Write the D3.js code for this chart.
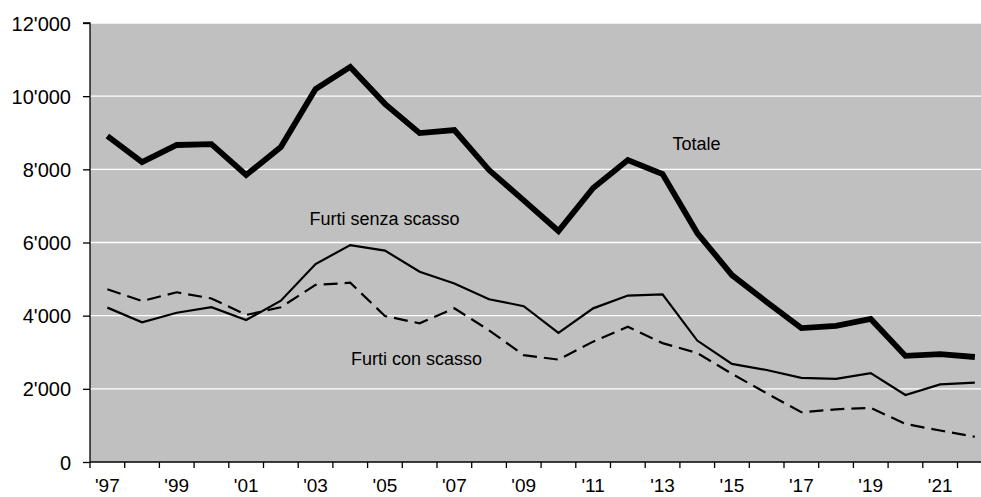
<!DOCTYPE html>
<html><head><meta charset="utf-8">
<script src="https://cdn.jsdelivr.net/npm/d3@7"></script>
<style>body{margin:0;background:#fff}svg{display:block}text{font-family:"Liberation Sans",Arial,sans-serif;fill:#000}</style>
</head><body><svg id="c" width="981" height="497"></svg>
<script>
const years = ["1997","1998","1999","2000","2001","2002","2003","2004","2005","2006","2007","2008","2009","2010","2011","2012","2013","2014","2015","2016","2017","2018","2019","2020","2021","2022"];
const totale = [8910,8200,8665,8690,7845,8610,10195,10800,9790,8990,9075,7980,7150,6315,7490,8255,7870,6260,5110,4375,3660,3720,3910,2900,2950,2870];
const senzaScasso = [4220,3820,4080,4230,3880,4410,5410,5930,5780,5200,4880,4450,4260,3530,4200,4550,4580,3320,2680,2515,2300,2270,2430,1830,2120,2170];
const conScasso = [4720,4400,4640,4470,4020,4230,4840,4900,3990,3790,4200,3600,2920,2800,3290,3700,3250,2980,2410,1880,1360,1440,1480,1040,860,690];
const yTicks = [0,2000,4000,6000,8000,10000,12000];
const xLabelYears = ["1997","1999","2001","2003","2005","2007","2009","2011","2013","2015","2017","2019","2021"];
const labels = [
  {text:"Totale", year:"2013", value:8530, dx:10},
  {text:"Furti senza scasso", year:"2003", value:6480, dx:-6},
  {text:"Furti con scasso", year:"2005", value:2650, dx:-34}
];

(function(){
const svg = d3.select("#c");
const mLeft = 90, mTop = 23, mBottom = 462;
const bw = 34.7;
const x = d3.scaleBand().domain(years).range([mLeft, mLeft + bw*years.length]).padding(0);
const y = d3.scaleLinear().domain([0,12000]).range([mBottom, mTop]);
const loc = d3.formatLocale({decimal:".", thousands:"'", grouping:[3], currency:["",""]});
const fmt = loc.format(",");

svg.append("defs").append("clipPath").attr("id","cp").append("rect")
  .attr("x",mLeft).attr("y",0).attr("width",981-mLeft).attr("height",497);

svg.append("rect").attr("x",mLeft).attr("y",y(12000)).attr("width",981-mLeft).attr("height",y(0)-y(12000)).attr("fill","#c0c0c0");

svg.append("g").selectAll("line").data(yTicks.filter(d=>d>0)).join("line")
  .attr("x1",mLeft).attr("x2",981).attr("y1",d=>y(d)).attr("y2",d=>y(d))
  .attr("stroke","#fff").attr("stroke-width",1.3);

const cx = d => x(d) + x.bandwidth()/2;
const g = svg.append("g").attr("clip-path","url(#cp)");
const line = d3.line().x((d,i)=>cx(years[i])).y(d=>y(d));
g.append("path").datum(conScasso).attr("d",line).attr("fill","none").attr("stroke","#000").attr("stroke-width",2.2).attr("stroke-dasharray","14,7");
g.append("path").datum(senzaScasso).attr("d",line).attr("fill","none").attr("stroke","#000").attr("stroke-width",2.2);
g.append("path").datum(totale).attr("d",line).attr("fill","none").attr("stroke","#000").attr("stroke-width",5.8).attr("stroke-linejoin","miter");

const ya = svg.append("g").attr("transform",`translate(${mLeft},0)`)
  .call(d3.axisLeft(y).tickValues(yTicks).tickFormat(fmt).tickSize(7).tickPadding(12));
ya.select(".domain").attr("stroke","#000").attr("stroke-width",1.3).attr("d",`M-7,${y(12000)}H0V${y(0)}`);
ya.selectAll("text").style("font-size","20px").attr("dy","0.35em");
ya.selectAll("line").attr("stroke","#000").attr("stroke-width",1.3);

const xa = svg.append("g").attr("transform",`translate(0,${mBottom})`);
xa.append("line").attr("x1",mLeft).attr("x2",981).attr("y1",0).attr("y2",0).attr("stroke","#000").attr("stroke-width",1.5);
xa.selectAll("line.t").data(years.map(d=>x(d)).filter(v=>v<981)).join("line").attr("class","t")
  .attr("x1",d=>d).attr("x2",d=>d).attr("y1",0).attr("y2",6).attr("stroke","#000").attr("stroke-width",1.3);
xa.selectAll("text").data(xLabelYears).join("text")
  .attr("x",d=>cx(d)).attr("y",30).attr("text-anchor","middle").style("font-size","19px")
  .text(d=>"'"+d.slice(2));

svg.append("g").selectAll("text").data(labels).join("text")
  .attr("x",d=>cx(d.year)+d.dx).attr("y",d=>y(d.value)).style("font-size","18px").text(d=>d.text);
})();
</script></body></html>
